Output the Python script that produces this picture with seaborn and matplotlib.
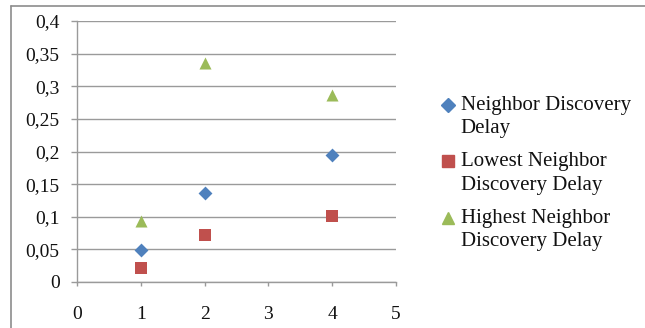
import matplotlib
matplotlib.use("Agg")
import matplotlib.pyplot as plt
from matplotlib.lines import Line2D
from matplotlib.legend_handler import HandlerLine2D
import seaborn as sns
import pandas as pd

# Delay measurements per scenario
x_values = [1, 2, 4]
neighbor_delay = [0.049, 0.136, 0.194]
lowest_delay = [0.022, 0.072, 0.101]
highest_delay = [0.093, 0.336, 0.287]

series_names = [
    "Neighbor Discovery\nDelay",
    "Lowest Neighbor\nDiscovery Delay",
    "Highest Neighbor\nDiscovery Delay",
]
series_colors = ["#4F81BD", "#C0504D", "#9BBB59"]
series_markers = ["D", "s", "^"]
series_sizes = [50, 80, 75]

x_ticks = [0, 1, 2, 3, 4, 5]
y_ticks = [0, 0.05, 0.1, 0.15, 0.2, 0.25, 0.3, 0.35, 0.4]
y_tick_labels = ["0", "0,05", "0,1", "0,15", "0,2", "0,25", "0,3", "0,35", "0,4"]

df = pd.concat(
    [
        pd.DataFrame({"x": x_values, "delay": vals, "series": name})
        for name, vals in zip(series_names, [neighbor_delay, lowest_delay, highest_delay])
    ],
    ignore_index=True,
)

sns.set_theme(style="white")
plt.rcParams["font.family"] = ["Liberation Serif", "DejaVu Serif"]

FS = 14
LEG_FS = 15
grid_color = "#9a9a9a"

fig = plt.figure(figsize=(6.45, 3.28), dpi=100)
ax = fig.add_axes([77 / 645, 1 - 282 / 328, (396 - 77) / 645, (282 - 21) / 328])

for name, color, marker, size in zip(series_names, series_colors, series_markers, series_sizes):
    sub = df[df["series"] == name]
    sns.scatterplot(
        data=sub, x="x", y="delay", ax=ax, color=color, marker=marker,
        s=size, linewidth=0, label=name, legend=False, zorder=3,
    )

ax.set_xlim(0, 5)
ax.set_ylim(0, 0.4)
ax.set_xticks(x_ticks)
ax.set_xticklabels([str(t) for t in x_ticks])
ax.set_yticks(y_ticks)
ax.set_yticklabels(y_tick_labels)
ax.set_xlabel("")
ax.set_ylabel("")

ax.yaxis.grid(True, color=grid_color, linewidth=1.0)
ax.xaxis.grid(False)
ax.set_axisbelow(True)
for side in ["top", "right"]:
    ax.spines[side].set_visible(False)
for side in ["left", "bottom"]:
    ax.spines[side].set_color(grid_color)
    ax.spines[side].set_linewidth(1.0)

ax.tick_params(axis="y", which="major", direction="out", length=4.0, width=1.0,
               color=grid_color, pad=8.5, labelsize=FS, left=True)
ax.tick_params(axis="x", which="major", direction="out", length=3.2, width=1.0,
               color=grid_color, pad=14, labelsize=FS, bottom=True)
for lbl in ax.get_xticklabels() + ax.get_yticklabels():
    lbl.set_color("#111111")


class RaisedMarkerHandler(HandlerLine2D):
    """Puts the legend marker level with the first line of a two-line label."""

    def __init__(self, offset, **kw):
        super().__init__(**kw)
        self.offset = offset

    def create_artists(self, legend, orig_handle, xdescent, ydescent, width,
                       height, fontsize, trans):
        artists = super().create_artists(legend, orig_handle, xdescent, ydescent,
                                         width, height, fontsize, trans)
        for a in artists:
            a.set_ydata([y + self.offset for y in a.get_ydata()])
        return artists


handles = [
    Line2D([], [], linestyle="none", marker=m, color=c, markersize=ms)
    for m, c, ms in zip(series_markers, series_colors, [7, 9, 9])
]
handler = RaisedMarkerHandler(offset=8.6)
leg = fig.legend(
    handles, series_names, loc="upper left", bbox_to_anchor=(442 / 645, 1 - 96 / 328),
    frameon=False, fontsize=LEG_FS, handlelength=0.55, handletextpad=0.35,
    labelspacing=0.67, borderaxespad=0, borderpad=0,
    handler_map={h: handler for h in handles},
)
for t in leg.get_texts():
    t.set_color("#111111")
    t.set_linespacing(1.32)

# Outer chart frame: top and left edges
fig.add_artist(Line2D([11 / 645, 1.0], [1 - 5.5 / 328, 1 - 5.5 / 328],
                      transform=fig.transFigure, color="#8c8c8c", linewidth=1.2))
fig.add_artist(Line2D([11 / 645, 11 / 645], [0.0, 1 - 5.5 / 328],
                      transform=fig.transFigure, color="#8c8c8c", linewidth=1.2))

fig.savefig("out.png", dpi=100)
